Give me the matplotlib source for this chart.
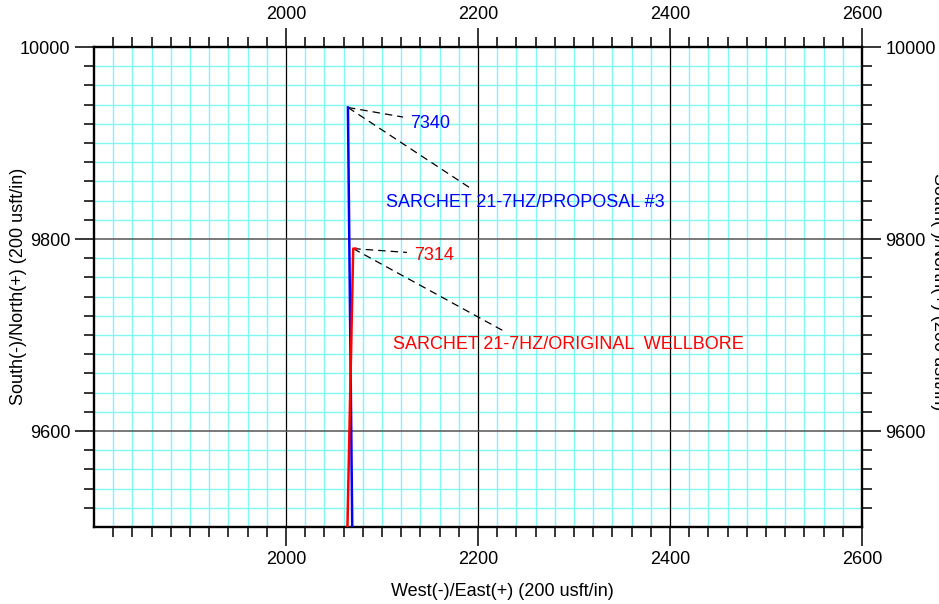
import matplotlib
matplotlib.use("Agg")
import matplotlib.pyplot as plt
from matplotlib.ticker import FixedLocator

plt.rcParams['font.family'] = ['Liberation Sans', 'DejaVu Sans']

# well paths, easting / northing (usft)
proposal_e = [2069, 2064.5]
proposal_n = [9500, 9937]
original_e = [2064, 2070, 2072.5]
original_n = [9500, 9790, 9790]

# label text
proposal_name = "SARCHET 21-7HZ/PROPOSAL #3"
original_name = "SARCHET 21-7HZ/ORIGINAL  WELLBORE"
proposal_md = "7340"
original_md = "7314"

x_major = [2000, 2200, 2400, 2600]
y_major = [9600, 9800, 10000]
x_minor = [v for v in range(1820, 2600, 20) if v not in x_major]
y_minor = [v for v in range(9520, 10000, 20) if v not in y_major]

fig = plt.figure(figsize=(9.39, 6.04), dpi=100)
ax = fig.add_axes([94/939, 77/604, 768/939, 480/604])
ax.set_xlim(1800, 2600)
ax.set_ylim(9500, 10000)

ax.xaxis.set_major_locator(FixedLocator(x_major))
ax.xaxis.set_minor_locator(FixedLocator(x_minor))
ax.yaxis.set_major_locator(FixedLocator(y_major))
ax.yaxis.set_minor_locator(FixedLocator(y_minor))

ax.set_axisbelow(True)
ax.grid(which='minor', color='#80f8f8', lw=1.0)
# major grid drawn on top of the cyan one
for v in x_major:
    ax.axvline(v, color='black', lw=0.9, zorder=1.5)
for v in y_major:
    ax.axhline(v, color='#555555', lw=1.1, zorder=1.5)

ax.tick_params(which='both', direction='out', top=True, right=True,
               labeltop=True, labelright=True, width=1.1, labelsize=13)
ax.tick_params(which='major', length=14, pad=3)
ax.tick_params(which='minor', length=7.2)
for s in ax.spines.values():
    s.set_linewidth(1.7)

ax.plot(proposal_e, proposal_n, color='blue', lw=1.8, zorder=3)
ax.plot(original_e, original_n, color='red', lw=1.8, zorder=3)

# leader lines
dash = dict(color='black', lw=0.9, ls=(0, (6, 4)), zorder=2)
ax.plot([proposal_e[-1], 2122], [proposal_n[-1], 9927], **dash)
ax.plot([proposal_e[-1], 2192], [proposal_n[-1], 9853], **dash)
ax.plot([original_e[1], 2126], [original_n[1], 9786], **dash)
ax.plot([original_e[1], 2227], [original_n[1], 9704], **dash)

ax.text(2129.5, 9920, proposal_md, color='blue', fontsize=13, va='center')
ax.text(2104.5, 9838.5, proposal_name, color='blue', fontsize=13, va='center')
ax.text(2133.5, 9783, original_md, color='red', fontsize=13, va='center')
ax.text(2111, 9690, original_name, color='red', fontsize=13, va='center')

fig.text(502/939, 1 - 592/604, "West(-)/East(+) (200 usft/in)", fontsize=13,
         ha='center', va='center')
fig.text(19/939, 1 - 286/604, "South(-)/North(+) (200 usft/in)", fontsize=13,
         ha='center', va='center', rotation=90)
fig.text(938/939, 1 - 292/604, "South(-)/North(+) (200 usft/in)", fontsize=13,
         ha='center', va='center', rotation=270)

fig.savefig("out.png", dpi=100)
